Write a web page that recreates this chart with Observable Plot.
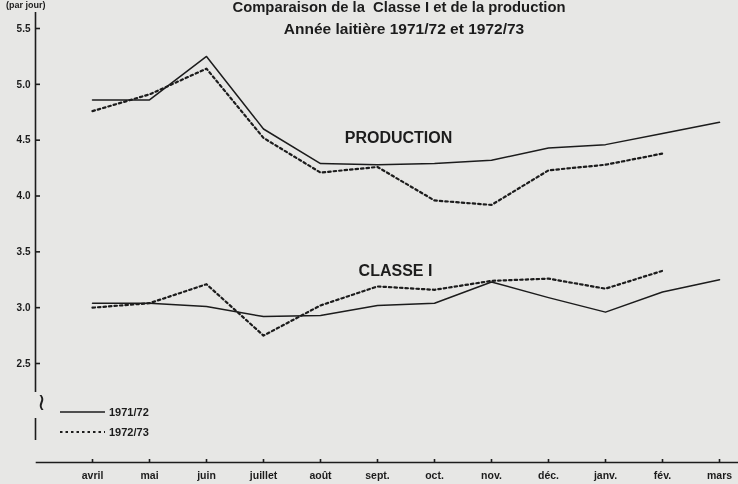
<!DOCTYPE html>
<html>
<head>
<meta charset="utf-8">
<script src="https://cdn.jsdelivr.net/npm/d3@7"></script>
<script src="https://cdn.jsdelivr.net/npm/@observablehq/plot@0.6"></script>
<style>
  html, body { margin: 0; padding: 0; background: #e7e7e5; }
  #wrap { position: relative; width: 738px; height: 484px; overflow: hidden; background: #e7e7e5;
          font-family: "Liberation Sans", Arial, sans-serif; color: #1c1c1c; }
  #chart svg { will-change: transform; }
  .t { position: absolute; white-space: nowrap; font-weight: bold; }
  #title { left: 399px; top: 0px; transform: translateX(-50%); font-size: 14.8px; line-height: 15px; }
  #subtitle { left: 404px; top: 21px; transform: translateX(-50%); font-size: 15.5px; line-height: 16px; }
  #unit { left: 6px; top: 0px; font-size: 9px; line-height: 10px; }
  #legend { position: absolute; left: 60px; top: 402px; font-weight: bold; font-size: 11px; }
  #legend .row { display: flex; align-items: center; height: 20px; }
  #legend svg { display: block; margin-right: 3px; }
  #layer { position: absolute; left: 100px; top: 170px; width: 620px; height: 200px; pointer-events: none; background: transparent; }
</style>
</head>
<body>
<div id="wrap">
  <div id="chart"></div>
  <div class="t" id="unit">(par jour)</div>
  <div class="t" id="title">Comparaison de la&nbsp; Classe I et de la production</div>
  <div class="t" id="subtitle">Année laitière 1971/72 et 1972/73</div>
  <div id="legend"></div>
  <div id="layer"></div>
</div>
<script>
const months = ["avril","mai","juin","juillet","août","sept.","oct.","nov.","déc.","janv.","fév.","mars"];
const yTicks = [2.5, 3.0, 3.5, 4.0, 4.5, 5.0, 5.5];
const years = ["1971/72", "1972/73"];
const production7172 = [4.86, 4.86, 5.25, 4.60, 4.29, 4.28, 4.29, 4.32, 4.43, 4.46, 4.56, 4.66];
const production7273 = [4.76, 4.91, 5.14, 4.52, 4.21, 4.26, 3.96, 3.92, 4.23, 4.28, 4.38, null];
const classe7172 = [3.04, 3.04, 3.01, 2.92, 2.93, 3.02, 3.04, 3.23, 3.09, 2.96, 3.14, 3.25];
const classe7273 = [3.00, 3.04, 3.21, 2.75, 3.02, 3.19, 3.16, 3.24, 3.26, 3.17, 3.33, null];
const seriesLabels = [
  {month: "sept.", value: 4.52, text: "PRODUCTION"},
  {month: "sept.", value: 3.33, text: "CLASSE I"}
];

function rows(values, serie, year) {
  return values.map((v, i) => ({month: months[i], value: v, serie, year}));
}
const solid = [...rows(production7172, "production", years[0]), ...rows(classe7172, "classe", years[0])];
const dotted = [...rows(production7273, "production", years[1]), ...rows(classe7273, "classe", years[1])];

const ink = "#1c1c1c";
const chart = Plot.plot({
  width: 738,
  height: 484,
  marginLeft: 36,
  marginRight: 0,
  marginTop: 28,
  marginBottom: 22,
  style: {background: "transparent", fontFamily: "'Liberation Sans', Arial, sans-serif", color: ink},
  x: {type: "point", domain: months, range: [89, 721], padding: 0},
  y: {domain: [2.5, 5.5], range: [363, 28]},
  marks: [
    Plot.frame({anchor: "bottom", stroke: ink, strokeWidth: 1.6}),
    // y axis line, broken near the bottom
    Plot.ruleX([months[0]], {x: d => d, dx: -57, insetTop: -16, insetBottom: 70, stroke: ink, strokeWidth: 1.6}),
    Plot.ruleX([months[0]], {x: d => d, dx: -57, insetTop: 390, insetBottom: 22, stroke: ink, strokeWidth: 1.6}),
    Plot.axisY(yTicks, {anchor: "left", tickSize: -4, tickPadding: 10, tickFormat: d3.format(".1f"),
      fontSize: 10, fontWeight: "bold", label: null, stroke: ink, strokeWidth: 1.6}),
    Plot.axisX(months, {anchor: "bottom", tickSize: -3, tickPadding: 12, fontSize: 10.5, fontWeight: "bold", label: null, strokeWidth: 1.6}),
    Plot.line(solid, {x: "month", y: "value", z: "serie", stroke: ink, strokeWidth: 1.5}),
    Plot.line(dotted, {x: "month", y: "value", z: "serie", stroke: ink, strokeWidth: 2.2, strokeDasharray: "2.5,3"}),
    Plot.text(seriesLabels.slice(0, 1), {x: "month", y: "value", text: "text", dx: 21, fontSize: 16, fontWeight: "bold", fill: ink}),
    Plot.text(seriesLabels.slice(1), {x: "month", y: "value", text: "text", dx: 18, fontSize: 16, fontWeight: "bold", fill: ink}),
    Plot.text(["≀"], {frameAnchor: "bottom-left", dy: -53, fontSize: 24, fill: ink})
  ]
});
document.getElementById("chart").appendChild(chart);

// legend
const legend = document.getElementById("legend");
years.forEach((y, i) => {
  const row = document.createElement("div");
  row.className = "row";
  const s = d3.create("svg").attr("width", 46).attr("height", 6);
  s.append("line").attr("x1", 0).attr("x2", 45).attr("y1", 3).attr("y2", 3)
    .attr("stroke", ink).attr("stroke-width", i === 0 ? 1.5 : 2.2)
    .attr("stroke-dasharray", i === 0 ? null : "2.5,3");
  row.appendChild(s.node());
  const t = document.createElement("span");
  t.textContent = y;
  row.appendChild(t);
  legend.appendChild(row);
});
</script>
</body>
</html>
